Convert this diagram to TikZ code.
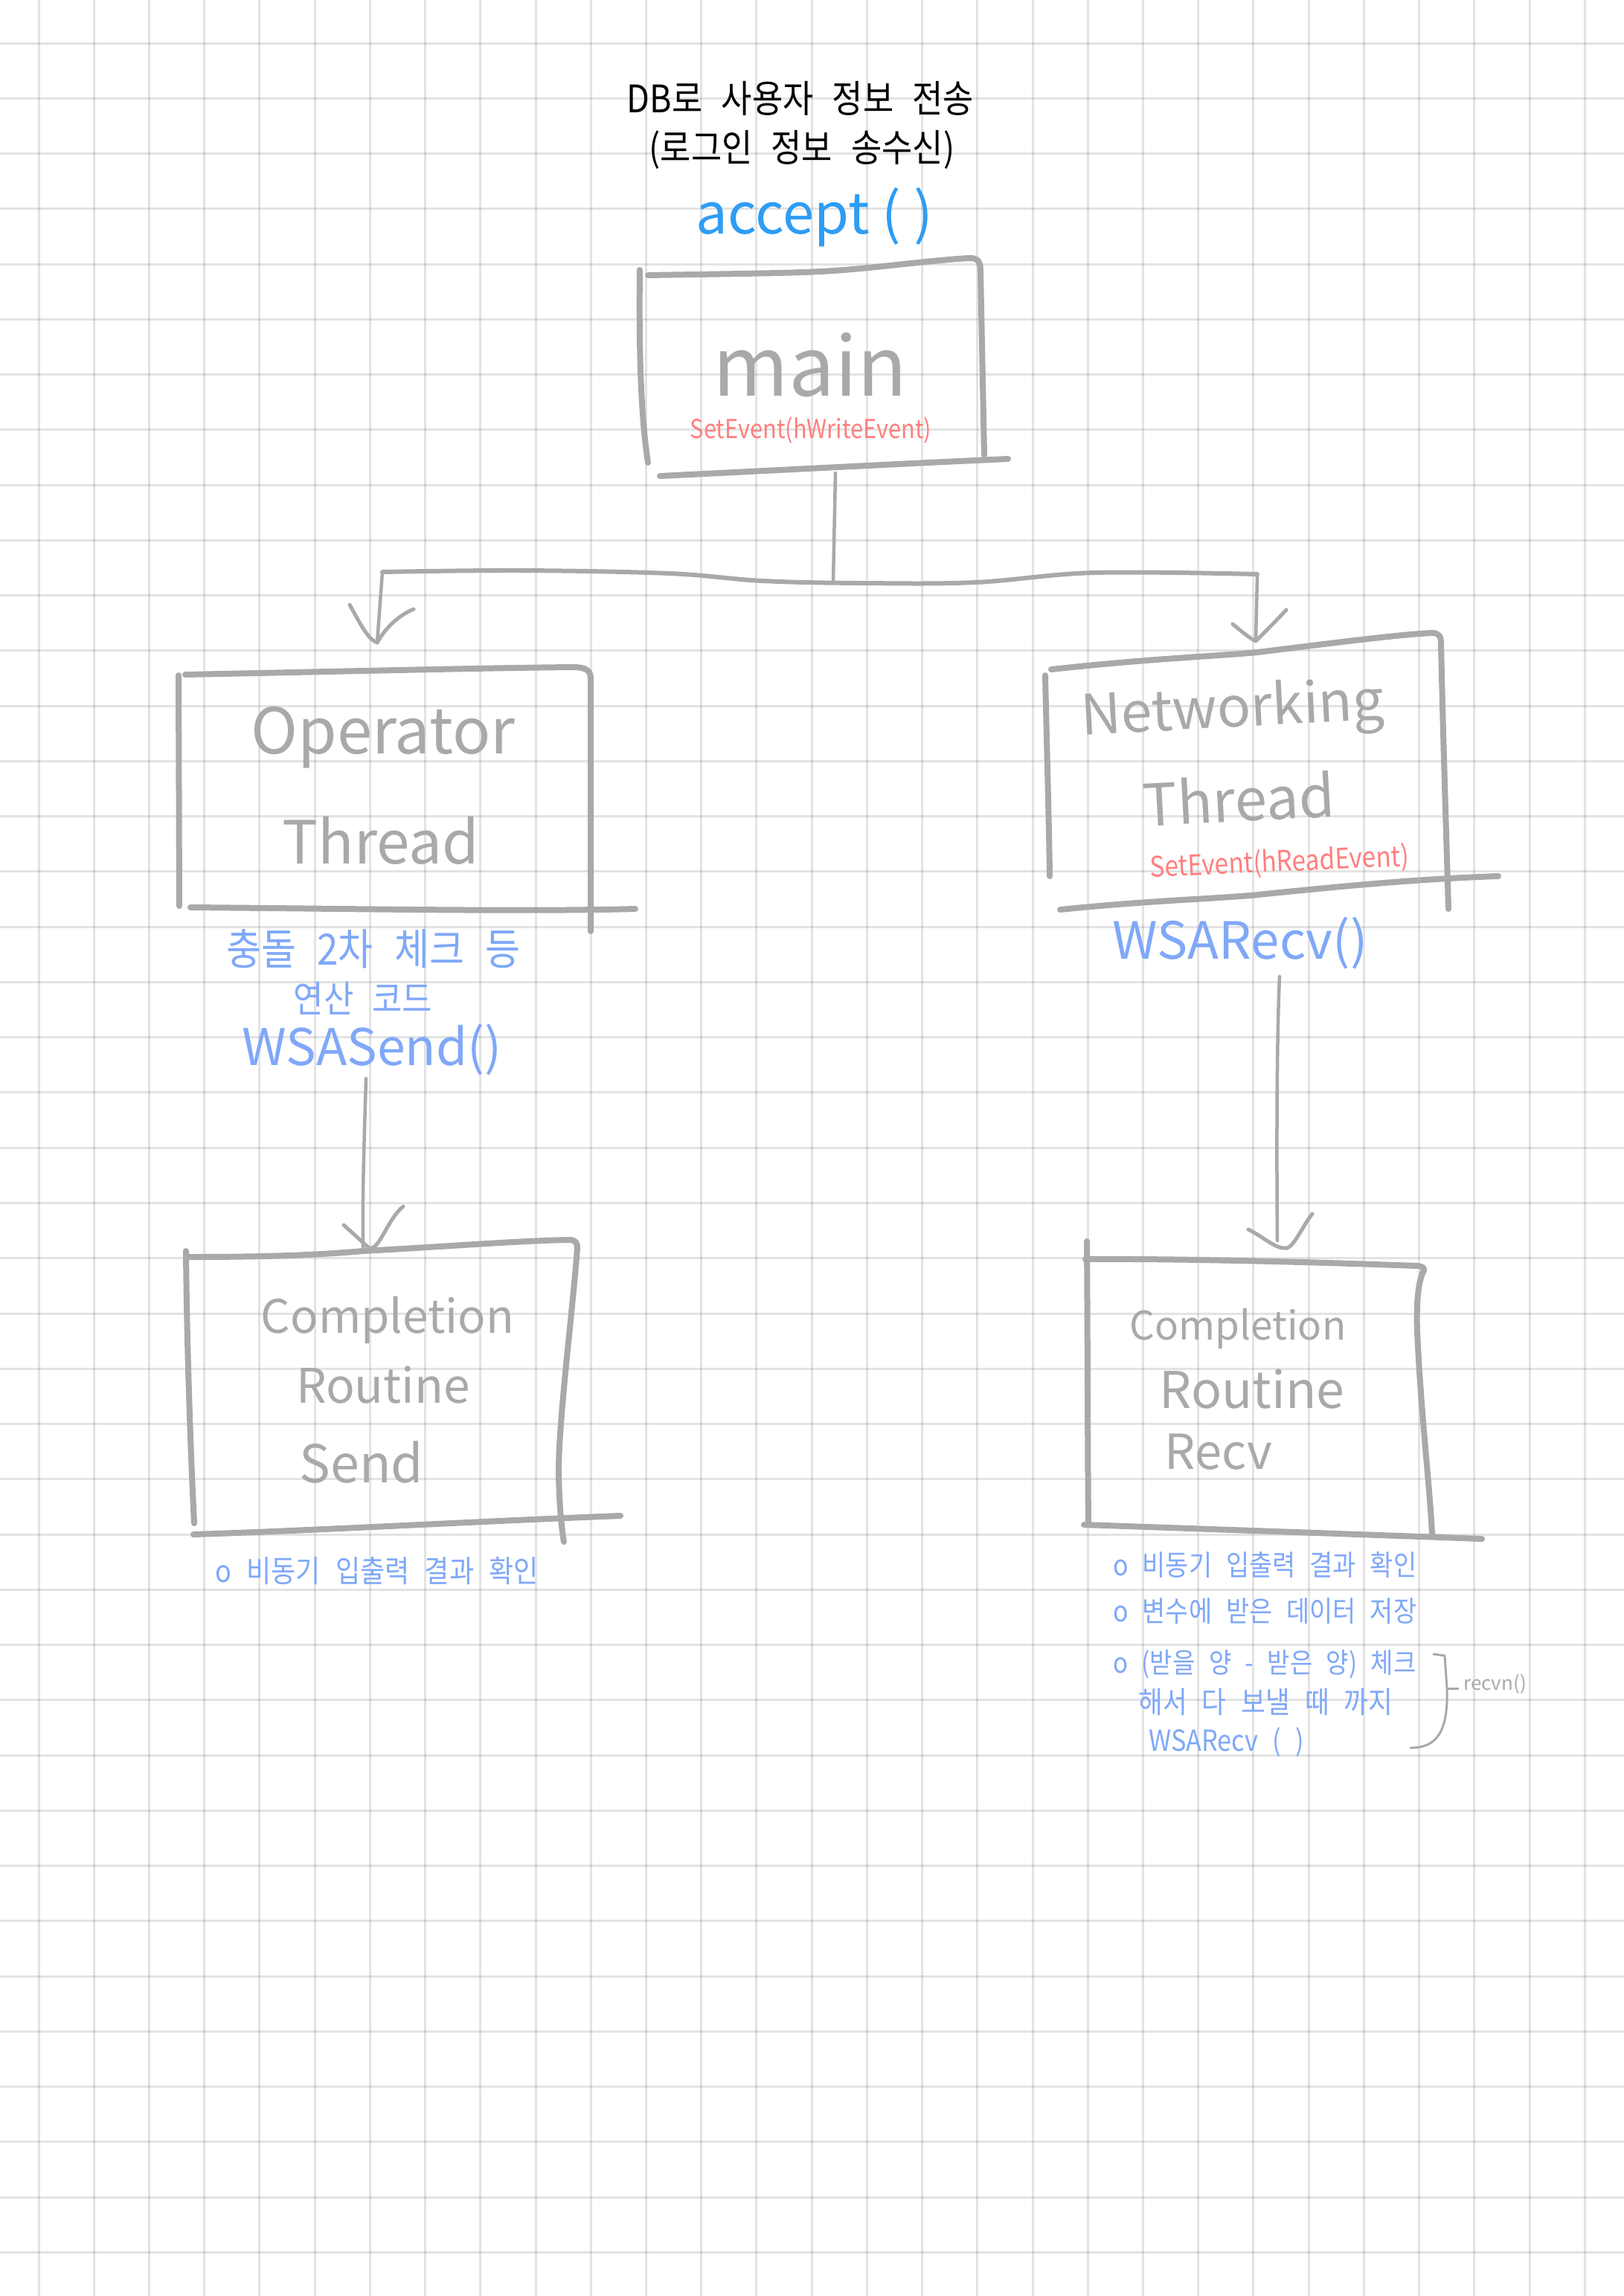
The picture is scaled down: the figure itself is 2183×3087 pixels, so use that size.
\documentclass[tikz,border=0pt]{standalone}
\usepackage{fontspec}
\setmainfont{Noto Sans CJK KR}
\newfontfamily\kr[WordSpace=2.5,FakeStretch=0.88]{Noto Sans CJK KR}
\definecolor{pen}{HTML}{A9A9A9}
\definecolor{note}{HTML}{80A8F8}
\definecolor{acc}{HTML}{2E9DF5}
\definecolor{ev}{HTML}{FF7F7F}
\newcommand\fsz[1]{\fontsize{#1}{#1}\selectfont}
\begin{document}
\begin{tikzpicture}[x=1pt,y=-1pt,
  gridline/.style={draw=black,opacity=0.11,line width=3pt},
  outline/.style={draw=pen,line width=8pt,line cap=round,line join=round},
  link/.style={draw=pen,line width=4.5pt,line cap=round,line join=round},
  tip/.style={draw=pen,line width=5pt,line cap=round,line join=round},
  lbl/.style={inner sep=0pt,text=pen},
  bluelbl/.style={inner sep=0pt,text=note},
  evlbl/.style={inner sep=0pt,text=ev}]
\fill[white] (0,0) rectangle (2183,3087);
\useasboundingbox (0,0) rectangle (2183,3087);
% grid
\foreach \i in {0,...,28} \draw[gridline] ({52+74.225*\i},0) -- ({52+74.225*\i},3087);
\foreach \j in {0,...,40} \draw[gridline] (0,{58+74.26*\j}) -- (2183,{58+74.26*\j});

% title
\node[inner sep=0pt] (t1) at (1076,132) {\kr\fsz{51}DB로 사용자 정보 전송};
\node[inner sep=0pt] (t2) at (1078,201) {\kr\fsz{51}(로그인 정보 송수신)};
\node[inner sep=0pt,text=acc] (acc) at (1095,292) {\fsz{76}accept ( )};

% main box
\draw[outline] (871,370) .. controls (1000,368) and (1080,367) .. (1120,364) .. controls (1170,361) and (1250,350) .. (1303,347) .. controls (1315,347) and (1318,352) .. (1318,365) -- (1323,612);
\draw[outline] (860,363) .. controls (859,450) and (860,550) .. (871,622);
\draw[outline] (887,640) .. controls (1050,632) and (1200,624) .. (1355,617);
\node[lbl] (main) at (1089,491) {\fsz{110}main};
\node[evlbl] (mainev) at (1090,579) {\kr\fsz{35}SetEvent(hWriteEvent)};

% operator box
\draw[outline] (249,907) .. controls (450,903) and (650,898) .. (770,897) .. controls (785,897) and (794,900) .. (794,912) -- (794,1252);
\draw[outline] (240,908) -- (241,1218);
\draw[outline] (256,1220) .. controls (500,1222) and (700,1226) .. (854,1222);
\node[lbl] (op1) at (515,992) {\fsz{85}Operator};
\node[lbl] (op2) at (512,1130) {\fsz{80}Thread};
\node[bluelbl] (opk1) at (502,1276) {\kr\fsz{58}충돌 2차 체크 등};
\node[bluelbl] (opk2) at (488,1342) {\kr\fsz{50}연산 코드};
\node[bluelbl] (opsend) at (500,1411) {\fsz{68}WSASend()};

% networking box
\draw[outline] (1413,900) .. controls (1550,885) and (1640,882) .. (1690,877) .. controls (1780,866) and (1880,853) .. (1925,851) .. controls (1935,851) and (1937,856) .. (1937,866) .. controls (1940,1000) and (1945,1150) .. (1947,1222);
\draw[outline] (1405,908) .. controls (1407,1000) and (1410,1100) .. (1411,1178);
\draw[outline] (1425,1223) .. controls (1550,1210) and (1650,1208) .. (1700,1202) .. controls (1800,1192) and (1900,1182) .. (2014,1178);
\node[lbl,rotate=3] (nw1) at (1657,957) {\fsz{75}Networking};
\node[lbl,rotate=3] (nw2) at (1665,1074) {\fsz{78}Thread};
\node[evlbl,rotate=2.5] (nwev) at (1720,1160) {\kr\fsz{38}SetEvent(hReadEvent)};
\node[bluelbl] (nwrecv) at (1667,1268) {\fsz{69}WSARecv()};

% completion send box
\draw[outline] (251,1690) .. controls (350,1690) and (420,1688) .. (488,1682) .. controls (600,1676) and (700,1668) .. (765,1667) .. controls (773,1667) and (776,1670) .. (776,1678) .. controls (770,1760) and (752,1900) .. (751,1973) .. controls (751,2010) and (754,2050) .. (758,2073);
\draw[outline] (250,1682) .. controls (251,1800) and (256,1950) .. (261,2048);
\draw[outline] (260,2063) .. controls (420,2058) and (650,2045) .. (834,2038);
\node[lbl] (s1) at (521,1775) {\fsz{62}Completion};
\node[lbl] (s2) at (515,1862) {\fsz{64}Routine};
\node[lbl] (s3) at (486,1966) {\fsz{70}Send};
\node[bluelbl,anchor=west] (snote) at (289,2112) {\kr\fsz{41}o 비동기 입출력 결과 확인};

% completion recv box
\draw[outline] (1459,1693) .. controls (1600,1692) and (1800,1698) .. (1905,1702) .. controls (1915,1703) and (1916,1706) .. (1912,1712) .. controls (1905,1730) and (1904,1760) .. (1905,1790) .. controls (1910,1900) and (1922,2000) .. (1925,2062);
\draw[outline] (1461,1669) .. controls (1462,1800) and (1462,1950) .. (1463,2047);
\draw[outline] (1457,2050) .. controls (1600,2055) and (1800,2062) .. (1992,2069);
\node[lbl] (r1) at (1664,1786) {\fsz{53}Completion};
\node[lbl] (r2) at (1683,1868) {\fsz{68}Routine};
\node[lbl] (r3) at (1638,1952) {\fsz{65}Recv};
\node[bluelbl,anchor=west] (rn1) at (1496,2104) {\kr\fsz{38.5}o 비동기 입출력 결과 확인};
\node[bluelbl,anchor=west] (rn2) at (1496,2166) {\kr\fsz{38.5}o 변수에 받은 데이터 저장};
\node[bluelbl,anchor=west] (rn3) at (1496,2238) {\kr\fsz{37.5}o (받을 양 - 받은 양) 체크};
\node[bluelbl,anchor=west] (rn4) at (1530,2288) {\kr\fsz{40.5}해서 다 보낼 때 까지};
\node[bluelbl,anchor=west] (rn5) at (1544,2342) {\kr\fsz{39}WSARecv ( )};
\node[lbl,anchor=west] (recvn) at (1967,2264) {\fsz{26}recvn()};

% connector anchors
\coordinate (mainOut) at (1123,636);
\coordinate (split) at (1120,782);
\coordinate (barL) at (514,769);
\coordinate (barR) at (1690,772);
\coordinate (opIn) at (507,864);
\coordinate (nwIn) at (1688,862);
\coordinate (sendOut) at (492,1450);
\coordinate (sendIn) at (488,1677);
\coordinate (recvOut) at (1720,1313);
\coordinate (recvIn) at (1717,1668);
\coordinate (brTop) at (1927,2224);
\coordinate (brEnd) at (1896,2350);

% connectors
\draw[link] (mainOut) -- (split);
\draw[link,line width=6pt] plot[smooth,tension=0.6] coordinates {(barL) (700,767) (900,771) (1025,781) (1160,784) (1311,783) (1471,770) (barR)};
\draw[link] (barL) -- (opIn);
\draw[tip] (470,813) .. controls (485,840) and (495,860) .. (opIn) .. controls (515,850) and (530,830) .. (556,819);
\draw[link] (barR) -- (nwIn);
\draw[tip] (1657,839) .. controls (1670,850) and (1680,858) .. (nwIn) .. controls (1700,850) and (1715,835) .. (1729,820);
\draw[link] (sendOut) .. controls (490,1520) and (487,1600) .. (sendIn);
\draw[tip] (462,1647) -- (496,1678) .. controls (510,1682) and (520,1640) .. (542,1622);
\draw[link] (recvOut) .. controls (1716,1400) and (1716,1560) .. (recvIn);
\draw[tip] (1678,1653) .. controls (1700,1664) and (1715,1680) .. (1730,1678) .. controls (1740,1675) and (1750,1650) .. (1764,1632);
% brace
\draw[draw=pen,line width=3pt,line cap=round,line join=round] (brTop) -- (1942,2226) -- (1945,2270) .. controls (1947,2330) and (1930,2350) .. (brEnd);
\draw[draw=pen,line width=3pt,line cap=round] (1945,2270) -- (1960,2270);
\end{tikzpicture}
\end{document}
